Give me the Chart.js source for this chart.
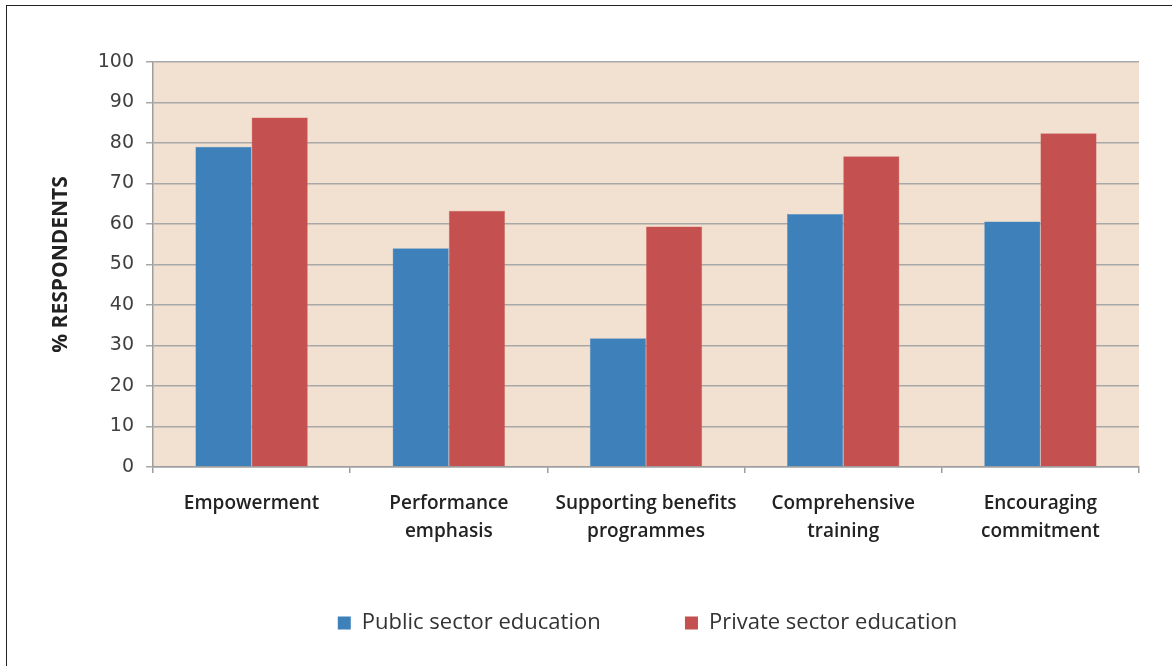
<!DOCTYPE html>
<html>
<head>
<meta charset="utf-8">
<script src="https://cdn.jsdelivr.net/npm/chart.js@4/dist/chart.umd.min.js"></script>
<style>
  html, body { margin: 0; padding: 0; background: #fff; }
  #wrap { position: relative; width: 1172px; height: 666px; overflow: hidden; }
  #frame {
    position: absolute; left: 6px; top: 5px; width: 1180px; height: 680px;
    border: 1px solid #222; box-sizing: border-box;
  }
  canvas { position: absolute; left: 0; top: 0; }
</style>
</head>
<body>
<div id="wrap">
  <div id="frame"></div>
  <canvas id="hrChart" width="1172" height="666"></canvas>
</div>
<script>
// Practices rated by respondents, public vs private education
const categories = [
    ['Empowerment'],
    ['Performance', 'emphasis'],
    ['Supporting benefits', 'programmes'],
    ['Comprehensive', 'training'],
    ['Encouraging', 'commitment']
];
const publicSector = [79.1, 54.0, 31.8, 62.5, 60.6];
const privateSector = [86.3, 63.3, 59.4, 76.7, 82.4];
const yTicks = [0, 10, 20, 30, 40, 50, 60, 70, 80, 90, 100];

// Peach fill behind the plot area
const plotBackground = {
    id: 'plotBackground',
    beforeDraw(chart) {
        const { ctx, chartArea: a } = chart;
        ctx.save();
        ctx.fillStyle = '#f2e1d0';
        ctx.fillRect(a.left, a.top, a.right - a.left, a.bottom - a.top);
        ctx.restore();
    }
};

// Nudge the legend row a bit to the right
const legendShift = {
    id: 'legendShift',
    afterLayout(chart) {
        if (chart.legend) {
            chart.legend.left += 56;
            chart.legend.right += 56;
        }
    }
};

const ctx = document.getElementById('hrChart').getContext('2d');
new Chart(ctx, {
    type: 'bar',
    data: {
        labels: categories,
        datasets: [{
            label: 'Public sector education',
            data: publicSector,
            backgroundColor: '#3d80ba',
            borderColor: '#5a93c6',
            borderWidth: 0.5
        }, {
            label: 'Private sector education',
            data: privateSector,
            backgroundColor: '#c4514f',
            borderColor: '#d27371',
            borderWidth: 0.5
        }]
    },
    options: {
        responsive: false,
        animation: false,
        devicePixelRatio: 1,
        datasets: {
            bar: { categoryPercentage: 0.57, barPercentage: 1.0 }
        },
        layout: {
            padding: { top: 62, right: 33, bottom: 22, left: 44 }
        },
        plugins: {
            tooltip: { enabled: false },
            legend: {
                position: 'bottom',
                labels: {
                    boxWidth: 13,
                    boxHeight: 13,
                    padding: 10,
                    color: '#333',
                    font: { family: 'Open Sans', size: 22 },
                    generateLabels(chart) {
                        const items = Chart.defaults.plugins.legend.labels.generateLabels(chart);
                        items.forEach(it => { it.text = it.text + '             '; it.lineWidth = 0; });
                        items[items.length - 1].text = items[items.length - 1].text.trim();
                        return items;
                    }
                }
            }
        },
        scales: {
            x: {
                grid: {
                    offset: true,
                    drawOnChartArea: false,
                    drawTicks: true,
                    tickLength: 6,
                    color: '#9e9e9e',
                    lineWidth: 1.5
                },
                border: { color: '#9e9e9e', width: 1.5 },
                ticks: {
                    color: '#222',
                    padding: 17,
                    maxRotation: 0,
                    autoSkip: false,
                    font: { family: 'Open Sans', size: 19, weight: '600', lineHeight: 1.47 }
                },
                afterFit(scale) { scale.height = 135; }
            },
            y: {
                min: 0,
                max: 100,
                afterBuildTicks(scale) { scale.ticks = yTicks.map(v => ({ value: v })); },
                grid: {
                    color: '#a8a8a8',
                    lineWidth: 1.5,
                    tickLength: 7
                },
                border: { color: '#9e9e9e', width: 1.5 },
                ticks: {
                    color: '#404040',
                    padding: 12,
                    font: { family: 'DejaVu Sans', size: 19 }
                },
                title: {
                    display: true,
                    text: '% RESPONDENTS',
                    color: '#222',
                    padding: { top: 4, bottom: 4 },
                    font: { family: 'Open Sans', size: 21, weight: 'bold' }
                },
                afterFit(scale) { scale.width = 109; }
            }
        }
    },
    plugins: [plotBackground, legendShift]
});
</script>
</body>
</html>
